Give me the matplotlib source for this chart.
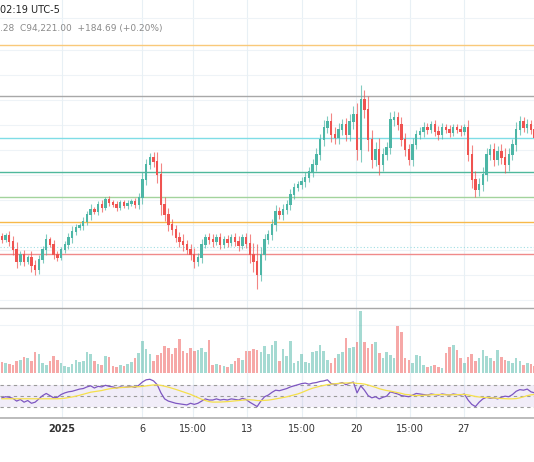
import matplotlib
matplotlib.use("Agg")
import matplotlib.pyplot as plt
import numpy as np

# close positions (screen px, converted to price below)
close_px = [240, 236, 242, 250, 262, 255, 262, 258, 266, 270,
            260, 250, 240, 245, 255, 258, 250, 245, 238, 232,
            228, 226, 222, 215, 210, 212, 205, 208, 200, 203,
            205, 208, 203, 206, 204, 202, 205, 198, 180, 165,
            158, 162, 175, 205, 215, 225, 230, 238, 242, 245,
            250, 255, 262, 258, 245, 238, 240, 242, 238, 245,
            240, 243, 238, 242, 246, 238, 244, 255, 262, 275,
            255, 240, 235, 225, 212, 215, 210, 205, 195, 188,
            185, 182, 178, 172, 165, 155, 140, 128, 122, 135,
            138, 130, 125, 135, 122, 115, 150, 100, 110, 140,
            160, 150, 165, 155, 148, 120, 118, 125, 140, 150,
            160, 145, 135, 132, 128, 130, 125, 132, 135, 128,
            130, 133, 128, 130, 132, 128, 155, 180, 190, 185,
            175, 155, 150, 160, 152, 158, 165, 155, 145, 130,
            122, 128, 125, 130, 138]
wick_px = [4, 3, 5, 6, 8, 4, 5, 3, 7, 6,
           5, 4, 6, 3, 5, 4, 3, 4, 5, 6,
           4, 3, 5, 4, 6, 3, 4, 5, 3, 4,
           3, 4, 3, 3, 4, 3, 4, 5, 8, 6,
           5, 6, 10, 12, 8, 7, 6, 5, 6, 8,
           5, 6, 7, 5, 6, 4, 5, 6, 4, 5,
           4, 5, 4, 5, 6, 4, 5, 10, 12, 18,
           8, 6, 5, 6, 7, 5, 6, 5, 6, 5,
           4, 5, 6, 5, 6, 7, 6, 8, 6, 9,
           8, 7, 6, 7, 8, 9, 12, 15, 10, 14,
           10, 8, 12, 7, 6, 8, 7, 6, 8, 7,
           6, 7, 5, 5, 6, 5, 4, 5, 6, 5,
           4, 5, 4, 4, 5, 4, 8, 10, 9, 7,
           8, 7, 6, 7, 6, 8, 10, 7, 6, 8,
           6, 5, 6, 5, 6]
volume = [11, 10, 9, 8, 12, 13, 15, 14, 12, 20,
          18, 10, 8, 12, 16, 13, 10, 7, 6, 9,
          13, 11, 12, 20, 18, 12, 9, 8, 16, 15,
          7, 6, 8, 7, 9, 11, 14, 19, 31, 23,
          18, 12, 17, 19, 26, 24, 18, 24, 33, 21,
          19, 24, 21, 22, 24, 20, 32, 8, 9, 8,
          7, 6, 9, 12, 14, 13, 21, 21, 23, 22,
          20, 26, 18, 27, 31, 12, 23, 16, 31, 10,
          12, 18, 11, 10, 20, 21, 27, 21, 13, 10,
          14, 18, 20, 34, 24, 25, 30, 60, 30, 24,
          28, 30, 19, 14, 20, 17, 14, 45, 40, 14,
          13, 10, 17, 16, 8, 6, 7, 8, 6, 5,
          19, 25, 27, 22, 14, 10, 15, 18, 12, 14,
          22, 16, 14, 12, 22, 15, 13, 12, 10, 14,
          12, 8, 10, 9, 7]
rsi = [46, 48, 47, 45, 40, 43, 38, 41, 36, 38,
       44, 50, 54, 50, 46, 47, 52, 55, 57, 58,
       60, 62, 63, 66, 68, 64, 67, 66, 69, 67,
       66, 64, 66, 65, 66, 67, 65, 69, 75, 79,
       80, 77, 70, 55, 44, 40, 38, 36, 35, 34,
       33, 36, 34, 36, 40, 44, 42, 42, 44, 42,
       43, 42, 44, 43, 42, 45, 43, 38, 34, 30,
       40, 48, 51, 56, 60, 59, 61, 63, 66, 68,
       70, 72, 73, 71, 73, 74, 76, 77, 79, 72,
       71, 72, 74, 70, 73, 75, 55, 68, 60, 50,
       46, 48, 44, 47, 49, 57, 55, 53, 50, 49,
       48, 51, 54, 53, 52, 51, 53, 52, 51, 53,
       52, 51, 53, 52, 51, 53, 42, 34, 30, 38,
       44, 47, 45, 46, 44, 47, 49, 48, 52, 58,
       61, 60, 62, 57, 55]

level_px = [45, 96, 138, 172, 197, 222, 254, 308]
level_colors = ["#f9c97a", "#a8a8a8", "#7fdde6", "#4fb89c", "#a3d39c",
                "#f7b94a", "#f08a8a", "#a8a8a8"]
tick_x = [62, 142, 193, 247, 302, 356, 410, 464]
tick_labels = ["2025", "6", "15:00", "13", "15:00", "20", "15:00", "27"]

W, H = 534, 462
up_c, dn_c = "#4db6a6", "#ef5350"

def to_price(y):
    return 108000 - 30 * np.asarray(y, dtype=float)

close = to_price(close_px)
opens = np.r_[close[0] + 90, close[:-1]]
wick = np.array(wick_px) * 30
high = np.maximum(opens, close) + wick * 1.0
low = np.minimum(opens, close) - wick * 0.8
n = len(close)
xs = np.arange(n)

fig = plt.figure(figsize=(W / 100, H / 100), dpi=100)
fig.patch.set_facecolor("white")

def pane(top, bottom):
    return fig.add_axes([0, 1 - bottom / H, 1, (bottom - top) / H])

xlim = (-0.5, -0.5 + W / 3.7)

# price pane
ax = pane(0, 418)
ax.set_xlim(*xlim)
ax.set_ylim(108000 - 30 * 418, 108000)
for gy in range(50, 330, 25):
    ax.axhline(to_price(gy), color="#eef3f7", lw=0.8, zorder=0)
for tx in tick_x:
    ax.axvline(tx / 3.7 - 0.5, color="#e8f0f5", lw=0.8, zorder=0)
ax.axhline(to_price(18), color="#eef3f7", lw=0.8)
for y, c in zip(level_px, level_colors):
    ax.axhline(to_price(y), color=c, lw=1.0, zorder=1)
ax.axhline(to_price(247), color="#9fdde3", lw=0.8, ls=(0, (1, 2)), zorder=1)
cols = [up_c if c >= o else dn_c for o, c in zip(opens, close)]
ax.vlines(xs, low, high, colors=cols, lw=0.8, alpha=0.7, zorder=3)
ax.bar(xs, np.abs(close - opens) + 30, bottom=np.minimum(opens, close),
       width=0.65, color=cols, zorder=4)
ax.axis("off")

# volume pane
axv = pane(290, 373)
axv.set_xlim(*xlim)
axv.set_ylim(0, 80)
axv.bar(xs, volume, width=0.7, color=cols, alpha=0.5)
axv.axis("off")

# rsi pane
axr = pane(376, 412)
axr.set_xlim(*xlim)
axr.set_ylim(20, 86)
axr.axhspan(30, 70, color="#7e57c2", alpha=0.1, lw=0)
for lvl in (30, 50, 70):
    axr.axhline(lvl, color="#9a9a9a", lw=0.8, ls=(0, (3, 3)))
for tx in tick_x:
    axr.axvline(tx / 3.7 - 0.5, color="#e8f0f5", lw=0.8, zorder=0)
axr.plot(xs, rsi, color="#7e57c2", lw=0.9)
ma = np.convolve(rsi, np.ones(14) / 14, mode="full")[:n]
ma[:14] = np.array(rsi[:14]).mean()
axr.plot(xs, ma, color="#f5e04b", lw=0.9)
axr.axis("off")

# bottom axis
fig.add_artist(plt.Line2D([0, 1], [1 - 418 / H] * 2, color="#b0b0b0", lw=1.2))
for tx, lab in zip(tick_x, tick_labels):
    fig.text(tx / W, 1 - 429 / H, lab, ha="center", va="center",
             fontsize=7, color="#333333", fontweight="bold" if lab == "2025" else "normal")

fig.text(0, 1 - 10 / H, "02:19 UTC-5", fontsize=7, color="#222222", va="center")
fig.text(0, 1 - 29 / H, ".28  C94,221.00  +184.69 (+0.20%)", fontsize=6.5,
         color="#8a8a8a", va="center")

fig.savefig("out.png", dpi=100)
